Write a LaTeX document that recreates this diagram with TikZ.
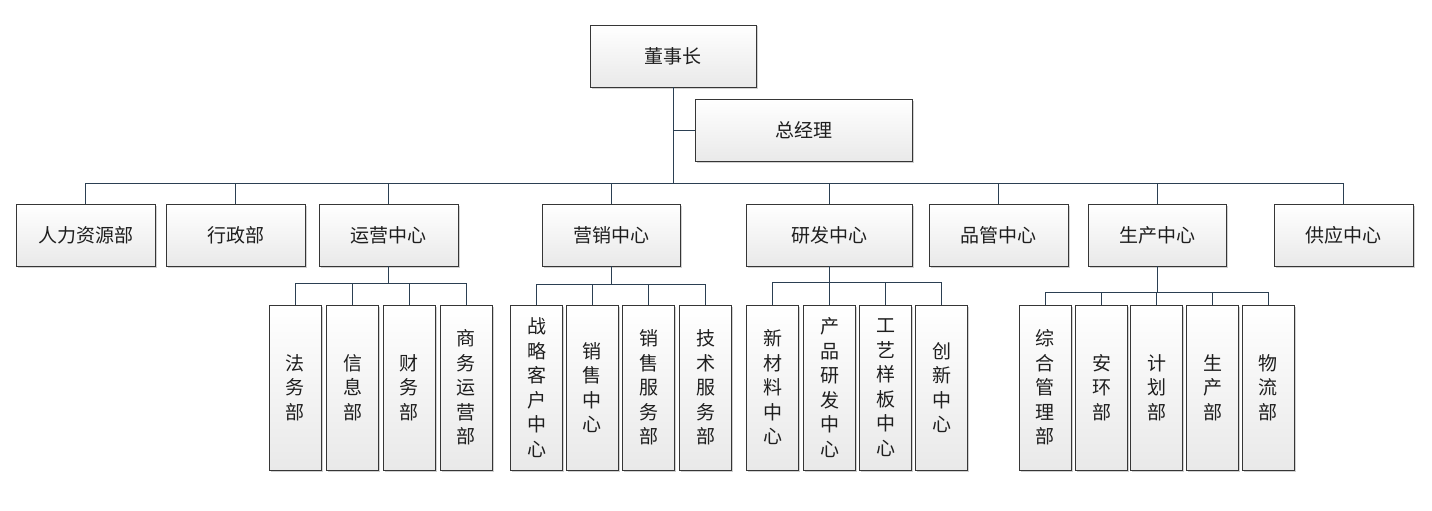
\documentclass[tikz,border=0pt]{standalone}
\usepackage{fontspec}
\newfontfamily\cjk{Noto Sans CJK SC}
\usetikzlibrary{shadows}
\definecolor{linkcol}{HTML}{2B3F52}
\definecolor{boxline}{HTML}{363636}
\definecolor{boxbot}{HTML}{E9E9E9}
\definecolor{txtcol}{HTML}{1E1E1E}
\tikzset{
  unit/.style={draw=boxline, line width=0.9pt, top color=white, bottom color=boxbot,
    text=txtcol, inner sep=0pt, align=center,
    drop shadow={shadow xshift=1.5pt, shadow yshift=-1.5pt, opacity=0.18, fill=black},
    font=\cjk\fontsize{19}{24.5}\selectfont},
  headbox/.style={unit, minimum height=62pt},
  subbox/.style={unit, minimum width=52pt, minimum height=165pt},
  link/.style={draw=linkcol, line width=0.9pt}
}
\begin{document}
\begin{tikzpicture}[x=1pt,y=-1pt]
    \useasboundingbox (0,0) rectangle (1432,511);
    % top
    \node[headbox, minimum width=166pt] (chair) at (673,56) {董事长};
    \node[headbox, minimum width=217pt] (gm) at (803.5,130.5) {总经理};
    % centres
    \node[headbox, minimum width=139pt] (hr) at (85.5,235) {人力资源部};
    \node[headbox, minimum width=139pt] (admin) at (235.5,235) {行政部};
    \node[headbox, minimum width=139pt] (ops) at (388.5,235) {运营中心};
    \node[headbox, minimum width=138pt] (mkt) at (611,235) {营销中心};
    \node[headbox, minimum width=166pt] (rd) at (829,235) {研发中心};
    \node[headbox, minimum width=139pt] (qc) at (998.5,235) {品管中心};
    \node[headbox, minimum width=138pt] (prod) at (1157,235) {生产中心};
    \node[headbox, minimum width=139pt] (sup) at (1343.5,235) {供应中心};
    % departments
    \node[subbox] (ops1) at (295,387.5) {法\\务\\部};
    \node[subbox] (ops2) at (352.5,387.5) {信\\息\\部};
    \node[subbox] (ops3) at (409,387.5) {财\\务\\部};
    \node[subbox] (ops4) at (466,387.5) {商\\务\\运\\营\\部};
    \node[subbox] (mkt1) at (536.5,387.5) {战\\略\\客\\户\\中\\心};
    \node[subbox] (mkt2) at (592,387.5) {销\\售\\中\\心};
    \node[subbox] (mkt3) at (648.5,387.5) {销\\售\\服\\务\\部};
    \node[subbox] (mkt4) at (705.5,387.5) {技\\术\\服\\务\\部};
    \node[subbox] (rd1) at (772.5,387.5) {新\\材\\料\\中\\心};
    \node[subbox] (rd2) at (829.5,387.5) {产\\品\\研\\发\\中\\心};
    \node[subbox] (rd3) at (885.5,387.5) {工\\艺\\样\\板\\中\\心};
    \node[subbox] (rd4) at (941.5,387.5) {创\\新\\中\\心};
    \node[subbox] (prod1) at (1045,387.5) {综\\合\\管\\理\\部};
    \node[subbox] (prod2) at (1101.5,387.5) {安\\环\\部};
    \node[subbox] (prod3) at (1156.5,387.5) {计\\划\\部};
    \node[subbox] (prod4) at (1212.5,387.5) {生\\产\\部};
    \node[subbox] (prod5) at (1268,387.5) {物\\流\\部};
    % links
    \draw[link] (chair.south) |- (gm.west);
    \foreach \c in {hr,admin,ops,mkt,rd,qc,prod,sup}
      \draw[link] (chair.south) -- ++(0,96) -| (\c.north);
    \foreach \c in {ops1,ops2,ops3,ops4}
      \draw[link] (ops.south) -- ++(0,17) -| (\c.north);
    \foreach \c in {mkt1,mkt2,mkt3,mkt4}
      \draw[link] (mkt.south) -- ++(0,18) -| (\c.north);
    \foreach \c in {rd1,rd2,rd3,rd4}
      \draw[link] (rd.south) -- ++(0,16) -| (\c.north);
    \foreach \c in {prod1,prod2,prod3,prod4,prod5}
      \draw[link] (prod.south) -- ++(0,26) -| (\c.north);
\end{tikzpicture}
\end{document}
